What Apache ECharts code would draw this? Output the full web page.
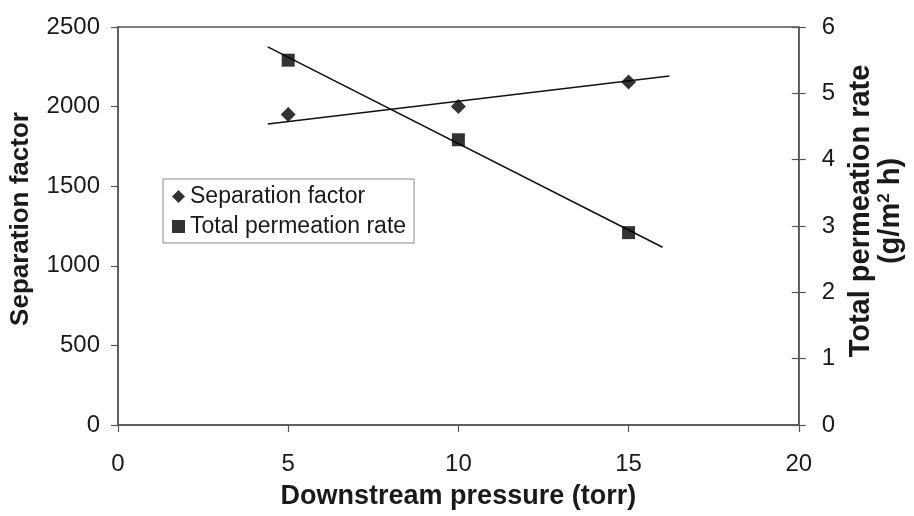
<!DOCTYPE html>
<html>
<head>
<meta charset="utf-8">
<script src="https://cdn.jsdelivr.net/npm/echarts@6/dist/echarts.min.js"></script>
<style>
  html, body { margin: 0; padding: 0; background: #fff; }
  #chart { width: 914px; height: 516px; }
</style>
</head>
<body>
<div id="chart"></div>
<script>
// Downstream pressure (torr)
const pressure = [5, 10, 15];
// Separation factor (left axis)
const separationFactor = [1950, 2000, 2155];
// Total permeation rate, g/m2 h (right axis)
const permeationRate = [5.5, 4.3, 2.9];
// Linear trend line end points
const sepTrendX = [4.4, 16.2];
const sepTrendY = [1891, 2192];
const permTrendX = [4.4, 16.0];
const permTrendY = [5.70, 2.68];
// Axis ticks
const xTicks = [0, 5, 10, 15, 20];
const leftTicks = [0, 500, 1000, 1500, 2000, 2500];
const rightTicks = [0, 1, 2, 3, 4, 5, 6];

const FONT = 'Liberation Sans, Arial, sans-serif';
const AXIS_COLOR = '#555';
const TEXT_COLOR = '#1a1a1a';

const pairs = (xs, ys) => xs.map((x, i) => [x, ys[i]]);

const chart = echarts.init(document.getElementById('chart'), null, { renderer: 'canvas' });

const yBase = {
  type: 'value',
  axisLine: { show: true, lineStyle: { color: AXIS_COLOR, width: 1.5 } },
  axisTick: { show: true, length: 7, lineStyle: { color: AXIS_COLOR, width: 1.2 } },
  splitLine: { show: false },
  axisLabel: { fontFamily: FONT, fontSize: 24, color: TEXT_COLOR, formatter: v => String(v) },
  nameLocation: 'middle',
  nameRotate: 90
};

chart.setOption({
  animation: false,
  backgroundColor: '#fff',
  grid: {
    left: 118, right: 111, top: 27, bottom: 91,
    show: true, borderColor: AXIS_COLOR, borderWidth: 1.5, backgroundColor: 'transparent'
  },
  legend: {
    orient: 'vertical',
    left: 163, top: 179,
    padding: [6, 8, 5, 9],
    itemGap: 7,
    itemWidth: 13, itemHeight: 13,
    borderColor: '#888', borderWidth: 1,
    textStyle: { fontFamily: FONT, fontSize: 23, color: TEXT_COLOR, padding: [0, 0, 0, 0] },
    data: [
      { name: 'Separation factor', icon: 'diamond' },
      { name: 'Total permeation rate', icon: 'rect' }
    ]
  },
  xAxis: {
    type: 'value',
    min: xTicks[0], max: xTicks[xTicks.length - 1], interval: 5,
    name: 'Downstream pressure (torr)',
    nameLocation: 'middle',
    nameGap: 58,
    nameTextStyle: { fontFamily: FONT, fontSize: 27, fontWeight: 'bold', color: TEXT_COLOR },
    axisLine: { show: true, onZero: false, lineStyle: { color: AXIS_COLOR, width: 1.5 } },
    axisTick: { show: true, length: 7, lineStyle: { color: AXIS_COLOR, width: 1.2 } },
    splitLine: { show: false },
    axisLabel: { fontFamily: FONT, fontSize: 24, color: TEXT_COLOR, margin: 27, formatter: v => String(v) }
  },
  yAxis: [
    Object.assign({}, yBase, {
      position: 'left',
      min: leftTicks[0], max: leftTicks[leftTicks.length - 1], interval: 500,
      name: 'Separation factor',
      nameGap: 84,
      nameTextStyle: {
        fontFamily: FONT, fontSize: 26, fontWeight: 'bold', color: TEXT_COLOR,
        padding: [0, 0, 0, 14]
      },
      axisLabel: Object.assign({}, yBase.axisLabel, { margin: 18 })
    }),
    Object.assign({}, yBase, {
      position: 'right',
      min: rightTicks[0], max: rightTicks[rightTicks.length - 1], interval: 1,
      name: 'Total permeation rate\n{t|(g/m}{s|2}{t| h)}',
      nameGap: 40,
      nameTextStyle: {
        fontFamily: FONT, fontSize: 29, fontWeight: 'bold', color: TEXT_COLOR,
        lineHeight: 30, align: 'center', padding: [0, 0, 0, 30],
        rich: {
          t: { fontFamily: FONT, fontSize: 29, fontWeight: 'bold', color: TEXT_COLOR, lineHeight: 30 },
          s: { fontFamily: FONT, fontSize: 17, fontWeight: 'bold', color: TEXT_COLOR, verticalAlign: 'top', lineHeight: 30, padding: [0, 0, 10, 0] }
        }
      },
      axisLabel: Object.assign({}, yBase.axisLabel, { margin: 23 })
    }),
    // inner half of the cross ticks on the right axis
    {
      type: 'value', position: 'right',
      min: rightTicks[0], max: rightTicks[rightTicks.length - 1], interval: 1,
      axisLine: { show: false },
      axisTick: { show: true, inside: true, length: 7, lineStyle: { color: AXIS_COLOR, width: 1.2 } },
      axisLabel: { show: false },
      splitLine: { show: false }
    }
  ],
  series: [
    {
      name: 'Separation factor trend',
      type: 'line',
      yAxisIndex: 0,
      data: pairs(sepTrendX, sepTrendY),
      showSymbol: false, symbol: 'none',
      lineStyle: { color: '#111', width: 1.6 },
      silent: true, z: 2
    },
    {
      name: 'Total permeation rate trend',
      type: 'line',
      yAxisIndex: 1,
      data: pairs(permTrendX, permTrendY),
      showSymbol: false, symbol: 'none',
      lineStyle: { color: '#111', width: 1.6 },
      silent: true, z: 2
    },
    {
      name: 'Separation factor',
      type: 'scatter',
      yAxisIndex: 0,
      symbol: 'diamond',
      symbolSize: 15,
      itemStyle: { color: '#000' },
      data: pairs(pressure, separationFactor),
      z: 3
    },
    {
      name: 'Total permeation rate',
      type: 'scatter',
      yAxisIndex: 1,
      symbol: 'rect',
      symbolSize: 13,
      itemStyle: { color: '#000' },
      data: pairs(pressure, permeationRate),
      z: 3
    }
  ]
});
</script>
</body>
</html>
